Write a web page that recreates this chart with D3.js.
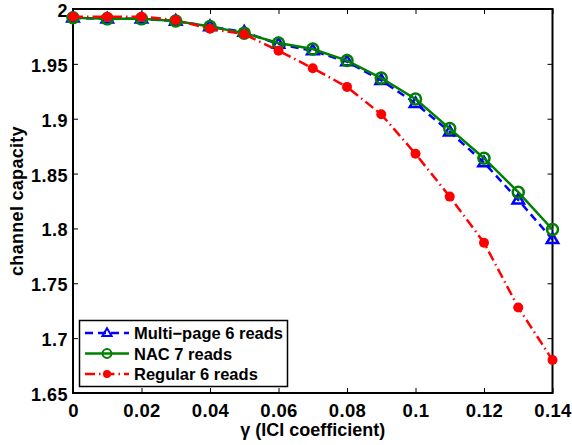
<!DOCTYPE html>
<html>
<head>
<meta charset="utf-8">
<script src="https://cdn.jsdelivr.net/npm/d3@7"></script>
<style>
  body { margin: 0; background: #fff; }
  text { font-family: "Liberation Sans", Arial, sans-serif; font-weight: bold; }
</style>
</head>
<body>
<svg id="chart"></svg>
<script>
let width = 572, height = 445
let margin = { top: 9, right: 20, bottom: 52, left: 73 }

// data
let gamma = [0, 0.01, 0.02, 0.03, 0.04, 0.05, 0.06, 0.07, 0.08, 0.09, 0.10, 0.11, 0.12, 0.13, 0.14]
let multiPage = [1.992, 1.991, 1.991, 1.989, 1.984, 1.979, 1.968, 1.962, 1.952, 1.935, 1.914, 1.888, 1.860, 1.826, 1.790]
let nac = [1.992, 1.991, 1.991, 1.989, 1.984, 1.978, 1.969, 1.9635, 1.953, 1.937, 1.918, 1.891, 1.864, 1.833, 1.799]
let regular = [1.993, 1.993, 1.993, 1.990, 1.982, 1.977, 1.962, 1.946, 1.929, 1.904, 1.868, 1.829, 1.787, 1.728, 1.680]
let xTicks = [0, 0.02, 0.04, 0.06, 0.08, 0.1, 0.12, 0.14]
let yTicks = [1.65, 1.7, 1.75, 1.8, 1.85, 1.9, 1.95, 2]

let series = [
  { name: 'Multi\u2212page 6 reads', values: multiPage, color: '#0000ff', dash: '8,5', marker: 'tri' },
  { name: 'NAC 7 reads', values: nac, color: '#008000', dash: null, marker: 'ring' },
  { name: 'Regular 6 reads', values: regular, color: '#ff0000', dash: '10,4,1.5,4', marker: 'dot' }
]

let svg = d3.select('#chart').attr('width', width).attr('height', height)
let x = d3.scaleLinear().domain([0, 0.14]).range([margin.left, width - margin.right + 0.5])
let y = d3.scaleLinear().domain([1.65, 2]).range([height - margin.bottom, margin.top])

let x0 = x.range()[0], x1 = x.range()[1], y0 = y.range()[0], y1 = y.range()[1]

// axes with inward ticks on all sides
let fmt = d => d3.format('')(+d.toFixed(2))
let gx = svg.append('g').attr('transform', `translate(0,${y0})`)
  .call(d3.axisBottom(x).tickValues(xTicks).tickSize(-5).tickPadding(11).tickFormat(fmt))
svg.append('g').attr('transform', `translate(0,${y1})`)
  .call(d3.axisTop(x).tickValues(xTicks).tickSize(-5).tickFormat(''))
let gy = svg.append('g').attr('transform', `translate(${x0},0)`)
  .call(d3.axisLeft(y).tickValues(yTicks).tickSize(-5).tickPadding(5).tickFormat(fmt))
svg.append('g').attr('transform', `translate(${x1},0)`)
  .call(d3.axisRight(y).tickValues(yTicks).tickSize(-5).tickFormat(''))

svg.selectAll('.domain').remove()
svg.selectAll('.tick line').attr('stroke', '#000').attr('stroke-width', 1)
svg.selectAll('.tick text').attr('fill', '#000')
gx.selectAll('.tick text').attr('font-size', 18.5).attr('letter-spacing', 0.4)
gy.selectAll('.tick text').attr('font-size', 18).attr('letter-spacing', 0.5).attr('dy', '0.42em')

svg.append('rect').attr('x', x0).attr('y', y1).attr('width', x1 - x0).attr('height', y0 - y1)
  .attr('fill', 'none').attr('stroke', '#000').attr('stroke-width', 2)

function drawMarker(sel, s, cx, cy) {
  if (s.marker === 'tri') {
    let r = 6
    sel.append('path')
      .attr('d', `M${cx},${cy - r}L${cx + r * 0.95},${cy + r * 0.6}L${cx - r * 0.95},${cy + r * 0.6}Z`)
      .attr('fill', 'none').attr('stroke', s.color).attr('stroke-width', 2.5)
  } else if (s.marker === 'ring') {
    sel.append('circle').attr('cx', cx).attr('cy', cy).attr('r', 5.5)
      .attr('fill', 'none').attr('stroke', s.color).attr('stroke-width', 2.5)
  } else {
    sel.append('circle').attr('cx', cx).attr('cy', cy).attr('r', 5)
      .attr('fill', s.color)
  }
}

let line = d3.line().x(d => x(d[0])).y(d => y(d[1]))
let plot = svg.append('g')
series.forEach(s => {
  let pts = gamma.map((g, i) => [g, s.values[i]])
  plot.append('path').datum(pts).attr('d', line)
    .attr('fill', 'none').attr('stroke', s.color).attr('stroke-width', 2.5)
    .attr('stroke-dasharray', s.dash)
  let mg = plot.append('g')
  pts.forEach(p => drawMarker(mg, s, x(p[0]), y(p[1])))
})

// legend
let lg = svg.append('g')
lg.append('rect').attr('x', 79.5).attr('y', 320.5).attr('width', 208).attr('height', 66)
  .attr('fill', '#fff').attr('stroke', '#000').attr('stroke-width', 1.5)
series.forEach((s, i) => {
  let ly = 333 + i * 20.5
  lg.append('line').attr('x1', 85).attr('x2', 129).attr('y1', ly).attr('y2', ly)
    .attr('stroke', s.color).attr('stroke-width', 2.5).attr('stroke-dasharray', s.dash)
  let m = lg.append('g').attr('transform', 'translate(107,' + ly + ') scale(0.8) translate(-107,' + (-ly) + ')')
  drawMarker(m, s, 107, ly)
  lg.append('text').attr('x', 134).attr('y', ly + 6).attr('font-size', 16.5).text(s.name)
})

// axis titles
svg.append('text').attr('x', (x0 + x1) / 2).attr('y', 436).attr('text-anchor', 'middle')
  .attr('font-size', 18).text('\u03b3 (ICI coefficient)')
svg.append('text').attr('transform', `translate(23,${(y0 + y1) / 2}) rotate(-90)`)
  .attr('text-anchor', 'middle').attr('font-size', 18).attr('letter-spacing', 0.3).text('channel capacity')
</script>
</body>
</html>
